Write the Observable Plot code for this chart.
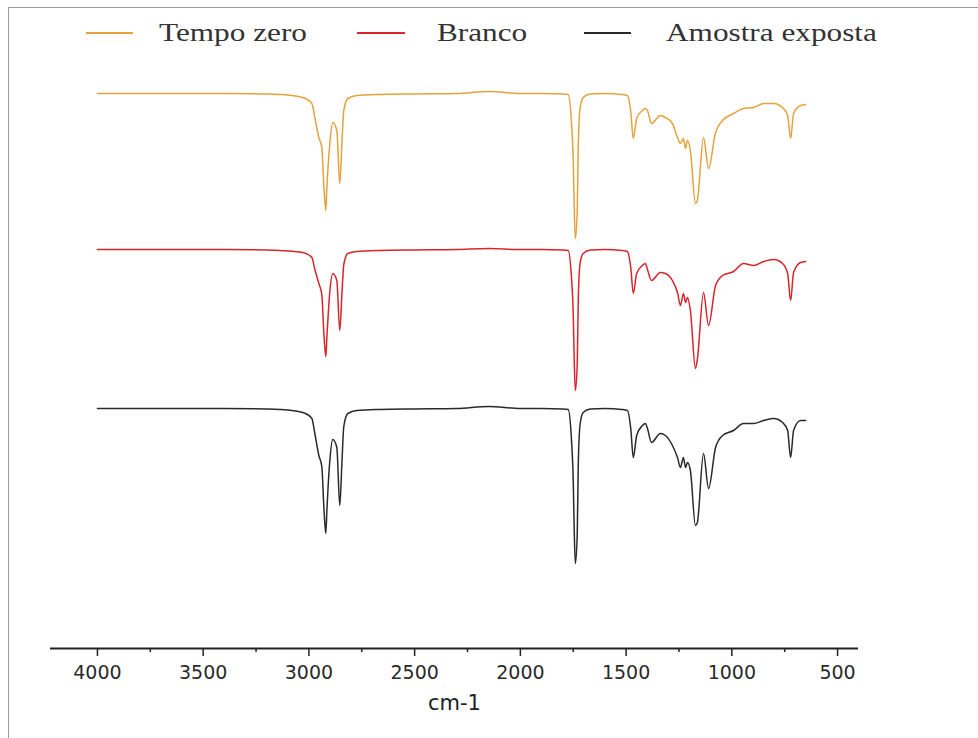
<!DOCTYPE html>
<html>
<head>
<meta charset="utf-8">
<script src="https://cdn.jsdelivr.net/npm/d3@7"></script>
<script src="https://cdn.jsdelivr.net/npm/@observablehq/plot@0.6"></script>
<style>
  html, body { margin: 0; padding: 0; background: #fff; }
  #wrap { position: relative; width: 978px; height: 738px; overflow: hidden; background: #fff; }
  #frame { position: absolute; left: 8px; top: 7px; width: 980px; height: 740px; border-left: 1px solid #9a9a9a; border-top: 1px solid #9a9a9a; box-sizing: border-box; pointer-events: none; }
  .lg-line { position: absolute; height: 2px; top: 32px; }
  .lg-text { position: absolute; top: 20px; font-family: "Liberation Serif", "Times New Roman", serif; font-size: 25px; line-height: 25px; color: #333; white-space: nowrap; transform: scaleX(1.25); transform-origin: left center; }
  #chart { position: absolute; left: 0; top: 60px; }
</style>
</head>
<body>
<div id="wrap">
  <div id="legend"></div>
  <div id="chart"></div>
  <div id="frame"></div>
</div>
<script>
// Wavenumbers (cm-1)
const wavenumber = [4000,3800,3600,3400,3200,3138,3029,2986,2972,2953,2939,2929,2920,2915,2901,2887,2868,2854,2844,2835,2816,2773,2664,2500,2300,2150,2000,1900,1800,1774,1759,1750,1745,1740,1731,1726,1717,1703,1669,1600,1520,1494,1478,1466,1450,1423,1409,1399,1380,1338,1314,1281,1257,1243,1229,1219,1210,1196,1172,1163,1134,1110,1077,1044,992,945,897,850,802,760,736,722,708,675,651];

// Transmittance (a.u.) for each spectrum
const tempoZero = [100,100,100,100,99.8,99.6,98.4,96,90.4,82.4,78.4,62.4,53.2,62.4,80,88.4,85.2,64,80,93.2,98,99.2,99.6,99.8,100,100.8,100,100,99.8,99.6,89.2,73.2,53.2,42,53.2,80,94.4,98.4,99.8,100,99.6,99.2,92.8,82,90,93.2,94,93.2,88,91.2,90.4,88,82.4,80,82,78,81.2,77.2,56,57.2,82.4,70,84.4,89.2,92,94,94.4,96,96,94.4,91.2,82,92,95.2,95.6];
const branco = [100,100,100,100,99.8,99.6,98.8,96.8,92,86.4,82,66,57.2,64.8,83.2,90.4,87.6,67.6,82,94,98.4,99.2,99.6,99.8,100,100.4,100,100,99.8,99.6,89.6,74,54.4,43.6,54.4,80.8,94.8,98.4,99.8,100,99.6,99.2,92.8,82.4,90.4,93.6,94.4,92,87.6,90.8,90.4,87.6,82.8,77.6,82.4,78.8,80.8,75.6,52.4,56,82.8,69.6,85.6,89.6,91.2,94.4,93.6,95.2,96,94.4,90.4,79.6,90.8,94.8,95.2];
const amostraExposta = [100,100,100,100,99.8,99.6,98.4,96,90,81.2,76.8,60,50,59.2,79.2,87.6,84.4,61.2,78,92.8,98,99.2,99.6,99.8,100,100.8,100,100,99.8,99.6,88.4,71.2,50,38,50,78.4,94,98.4,99.8,100,99.6,99.2,92,80.4,89.2,93.2,94,92,86.4,90,89.2,85.2,80.4,76.4,80.4,76.4,78.4,75.2,53.2,54.4,82,68,84.4,89.2,91.2,94,94,95.2,96,94.4,91.2,80.4,91.2,95.2,95.2];

const seriesNames = ["Tempo zero", "Branco", "Amostra exposta"];
const seriesOffsets = [0, -62.4, -126];   // vertical stacking offsets (a.u.)
const seriesColors = ["#e6a23c", "#d8252b", "#2a2a2a"];
const majorTicks = [4000, 3500, 3000, 2500, 2000, 1500, 1000, 500];
const minorTicks = [3750, 3250, 2750, 2250, 1750, 1250, 750];
const xLabel = "cm-1";

const seriesValues = [tempoZero, branco, amostraExposta];
const table = seriesNames.flatMap((name, s) =>
  wavenumber.map((w, i) => ({ series: name, wn: w, t: seriesValues[s][i] + seriesOffsets[s] }))
);

const yMin = -122, yMax = 105.2;

const chart = Plot.plot({
  width: 978,
  height: 678,
  marginLeft: 50,
  marginRight: 120,
  marginTop: 20,
  marginBottom: 90,
  x: { domain: [4222, 401], axis: null },
  y: { domain: [yMin, yMax], axis: null },
  color: { domain: seriesNames, range: seriesColors },
  style: { fontFamily: "DejaVu Sans", background: "transparent", overflow: "visible" },
  marks: [
    Plot.line(table, { x: "wn", y: "t", z: "series", stroke: "series", strokeWidth: 1.5, curve: "monotone-x" }),
    Plot.ruleY([yMin], { stroke: "#222", strokeWidth: 2 }),
    Plot.axisX({ ticks: majorTicks, tickSize: 8, tickPadding: 9, strokeWidth: 1.5, stroke: "#222",
      fontSize: 19, fontFamily: "DejaVu Sans", fill: "#2a2a2a", label: null, tickFormat: d => String(d) }),
    Plot.axisX({ ticks: minorTicks, tickSize: 4, strokeWidth: 1.5, stroke: "#222", tickFormat: () => "", label: null }),
    Plot.text([xLabel], { text: d => d, frameAnchor: "bottom", dy: 61, fontSize: 21, fontFamily: "DejaVu Sans", fill: "#222" })
  ]
});
document.getElementById("chart").appendChild(chart);

// Legend (HTML, above the SVG)
const legendPos = [
  { line: [86, 133], text: 159 },
  { line: [357, 405], text: 437 },
  { line: [584, 631], text: 666 }
];
const legend = document.getElementById("legend");
seriesNames.forEach((name, i) => {
  const p = legendPos[i];
  const ln = document.createElement("div");
  ln.className = "lg-line";
  ln.style.left = p.line[0] + "px";
  ln.style.width = (p.line[1] - p.line[0]) + "px";
  ln.style.background = seriesColors[i];
  legend.appendChild(ln);
  const tx = document.createElement("div");
  tx.className = "lg-text";
  tx.style.left = p.text + "px";
  tx.textContent = name;
  legend.appendChild(tx);
});
</script>
</body>
</html>
